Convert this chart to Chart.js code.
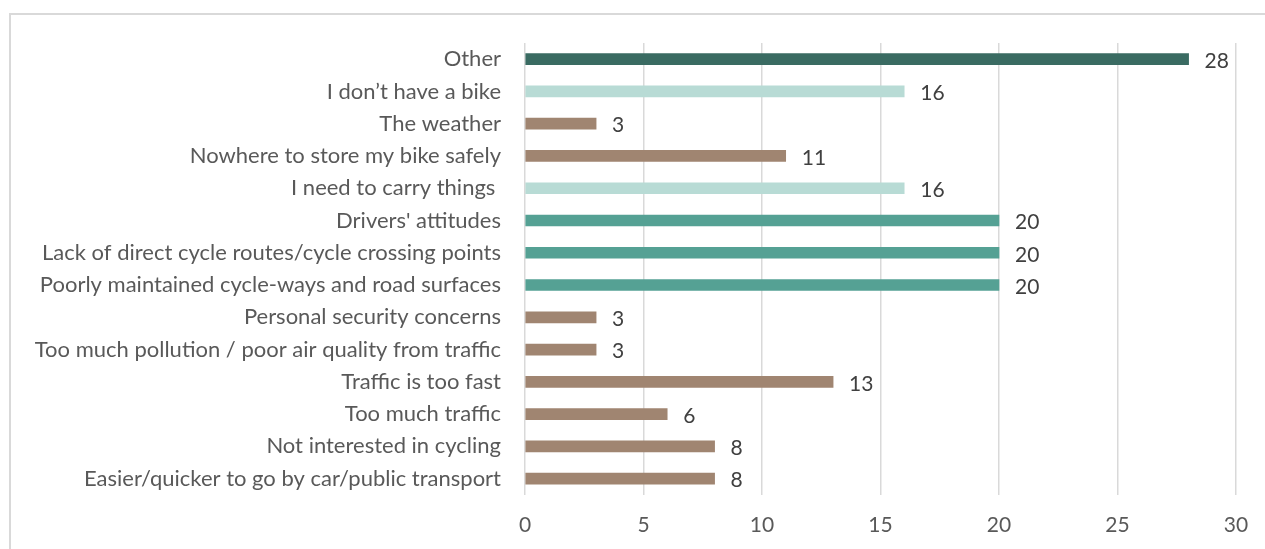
<!DOCTYPE html>
<html>
<head>
<meta charset="utf-8">
<script src="https://cdn.jsdelivr.net/npm/chart.js@4"></script>
<style>
  html, body { margin: 0; padding: 0; background: #fff; overflow: hidden; }
  #frame { position: absolute; left: 9px; top: 13px; width: 1300px; height: 600px; border: 2px solid #d9d9d9; }
  #barChart { position: absolute; left: 0; top: 0; }
</style>
</head>
<body>
<div id="frame"></div>
<canvas id="barChart" width="1265" height="549"></canvas>
<script>
Chart.defaults.animation = false;

const categories = [
  "Other",
  "I don\u2019t have a bike",
  "The weather",
  "Nowhere to store my bike safely",
  "I need to carry things ",
  "Drivers' attitudes",
  "Lack of direct cycle routes/cycle crossing points",
  "Poorly maintained cycle-ways and road surfaces",
  "Personal security concerns",
  "Too much pollution / poor air quality from traffic",
  "Traffic is too fast",
  "Too much traffic",
  "Not interested in cycling",
  "Easier/quicker to go by car/public transport"
];
const values = [28, 16, 3, 11, 16, 20, 20, 20, 3, 3, 13, 6, 8, 8];
const xTicks = [0, 5, 10, 15, 20, 25, 30];

// colour groups, same order as categories
const dark = "#3a6b62", light = "#b8dbd5", brown = "#a08571", teal = "#55a194";
const barColors = [dark, light, brown, brown, light, teal, teal, teal, brown, brown, brown, brown, brown, brown];

const FONT = "Lato, sans-serif";

// value labels to the right of each bar
const valueLabels = {
  id: "valueLabels",
  afterDatasetsDraw(chart) {
    const ctx = chart.ctx;
    const meta = chart.getDatasetMeta(0);
    ctx.save();
    ctx.font = "21px " + FONT;
    ctx.fillStyle = "#404040";
    ctx.textAlign = "left";
    ctx.textBaseline = "middle";
    meta.data.forEach((bar, i) => {
      ctx.fillText(values[i], bar.x + 16, bar.y + 2);
    });
    ctx.restore();
  }
};

new Chart(document.getElementById("barChart"), {
  type: "bar",
  data: {
    labels: categories,
    datasets: [{
      data: values,
      backgroundColor: barColors,
      barThickness: 11
    }]
  },
  options: {
    indexAxis: "y",
    responsive: false,
    layout: { padding: { left: 0, right: 29, top: 43, bottom: -7 } },
    plugins: {
      legend: { display: false },
      tooltip: { enabled: false }
    },
    scales: {
      x: {
        min: 0,
        max: 30,
        afterBuildTicks(scale) { scale.ticks = xTicks.map(v => ({ value: v })); },
        afterFit(scale) { scale.paddingRight = 0; scale.paddingLeft = 0; },
        grid: { color: "#d9d9d9", lineWidth: 1.5, drawTicks: false },
        border: { display: false },
        ticks: { padding: 18, color: "#595959", font: { family: FONT, size: 21 } }
      },
      y: {
        afterFit(scale) { scale.width = 525; },
        grid: { display: false, drawTicks: false },
        border: { display: false },
        ticks: { padding: 24, color: "#595959", font: { family: FONT, size: 22 } }
      }
    }
  },
  plugins: [valueLabels]
});
</script>
</body>
</html>
